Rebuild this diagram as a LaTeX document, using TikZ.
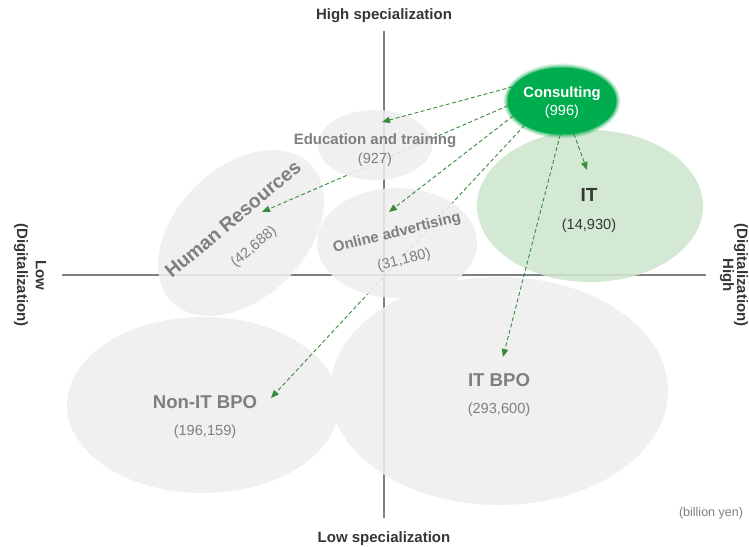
\documentclass[tikz,border=0pt]{standalone}
\usepackage{fontspec}
\setmainfont{Liberation Sans}
\usetikzlibrary{shapes.geometric,arrows.meta}

\definecolor{axisgray}{HTML}{7F7F7F}
\definecolor{bubblegray}{HTML}{EEEEEE}
\definecolor{itgreen}{HTML}{CFE7CF}
\definecolor{consgreen}{HTML}{00AD4E}
\definecolor{arrowgreen}{HTML}{3A8C3A}
\definecolor{labelgray}{HTML}{7F7F7F}
\definecolor{titlegray}{HTML}{363636}

\tikzset{
  bubble/.style={ellipse, fill=bubblegray, draw=none, inner sep=0pt},
  link/.style={arrowgreen, line width=0.9pt, dash pattern=on 4pt off 2.5pt,
    -{Triangle[length=8pt,width=6.5pt]}},
  axisline/.style={axisgray, line width=1.6pt},
  bigname/.style={font=\fontsize{18.6}{20}\selectfont\bfseries, text=labelgray, inner sep=0pt},
  midname/.style={font=\fontsize{15}{17}\selectfont\bfseries, text=labelgray, inner sep=0pt},
  value/.style={font=\fontsize{14.6}{16}\selectfont, text=labelgray, inner sep=0pt},
  axistitle/.style={font=\fontsize{15}{17}\selectfont\bfseries, text=titlegray, inner sep=0pt},
}

\begin{document}
\begin{tikzpicture}[x=1pt, y=-1pt]
  % canvas
  \fill[white] (0,0) rectangle (749,546);
  \useasboundingbox (0,0) rectangle (749,546);

  % quadrant axes
  \coordinate (axT) at (384,31);
  \coordinate (axB) at (384,518);
  \coordinate (axL) at (62,275);
  \coordinate (axR) at (706,275);
  \draw[axisline] (axT) -- (axB);
  \draw[axisline] (axL) -- (axR);

  % large market bubbles
  \begin{scope}[transparency group, opacity=0.88]
    \node[bubble, minimum width=272pt, minimum height=176pt] (nonit) at (203,405) {};
    \node[bubble, minimum width=338pt, minimum height=228pt] (itbpo) at (499,391) {};
    \node[bubble, rotate=45, minimum width=195pt, minimum height=130pt] (hr) at (241,233) {};
    \node[bubble, fill=itgreen, minimum width=226pt, minimum height=152pt] (it) at (590,206) {};
  \end{scope}

  % consulting bubble with a soft rim
  \foreach \r/\o in {3.5/0.12, 2.5/0.18, 1.5/0.25, 0.5/0.35}
    \fill[consgreen, opacity=\o] (562,101) ellipse [x radius=55pt+\r pt, y radius=34pt+\r pt];
  \node[ellipse, fill=consgreen, inner sep=0pt, minimum width=109pt, minimum height=67pt] (cons) at (562,101) {};

  % arrow targets
  \coordinate (tEdu) at (382,122);
  \coordinate (tHR)  at (262,212);
  \coordinate (tOnl) at (389,212);
  \coordinate (tNon) at (271,398);
  \coordinate (tITB) at (503,357);
  \coordinate (tIT)  at (587,170);

  \draw[link] (cons.185) -- (tHR);
  \draw[link] (cons.213) -- (tNon);
  \draw[link] (cons.267) -- (tITB);

  % small market bubbles
  \begin{scope}[transparency group, opacity=0.88]
    \node[bubble, minimum width=114pt, minimum height=70pt] (edu) at (375,145) {};
    \node[bubble, minimum width=160pt, minimum height=110pt] (onl) at (397,243) {};
  \end{scope}

  \draw[link] (cons.164) -- (tEdu);
  \draw[link] (cons.197) -- (tOnl);
  \draw[link] (cons.290) -- (tIT);

  % bubble labels
  \node[font=\fontsize{14.8}{16}\selectfont\bfseries, text=white, inner sep=0pt] (consN) at (562,94) {Consulting};
  \node[font=\fontsize{14.6}{16}\selectfont, text=white, inner sep=0pt] (consV) at (562,112) {(996)};

  \node[font=\fontsize{19}{21}\selectfont\bfseries, text=titlegray, inner sep=0pt] (itN) at (589,195) {IT};
  \node[value, text=titlegray] (itV) at (589,226) {(14,930)};

  \node[midname] (eduN) at (375,141) {Education and training};
  \node[value] (eduV) at (375,160) {(927)};

  \node[font=\fontsize{19.4}{21}\selectfont\bfseries, text=labelgray, inner sep=0pt, rotate=40] (hrN) at (233,219) {Human Resources};
  \node[value, rotate=40] (hrV) at (254,247) {(42,688)};

  \node[midname, rotate=14] (onlN) at (397,233) {Online advertising};
  \node[value, rotate=14] (onlV) at (404,260) {(31,180)};

  \node[bigname] (nonN) at (205,402) {Non-IT BPO};
  \node[value] (nonV) at (205,432) {(196,159)};

  \node[bigname] (itbN) at (499,380) {IT BPO};
  \node[value] (itbV) at (499,410) {(293,600)};

  % axis titles
  \node[axistitle] (hiS) at (384,16) {High specialization};
  \node[axistitle] (loS) at (384,539) {Low specialization};
  \node[axistitle, rotate=-90] (loD1) at (41,275) {Low};
  \node[axistitle, rotate=-90] (loD2) at (21,275) {(Digitalization)};
  \node[axistitle, rotate=-90] (hiD1) at (741,275) {(Digitalization)};
  \node[axistitle, rotate=-90] (hiD2) at (727,275) {High};

  \node[font=\fontsize{12.5}{14}\selectfont, text=labelgray, inner sep=0pt] (unit) at (711,513) {(billion yen)};
\end{tikzpicture}
\end{document}
